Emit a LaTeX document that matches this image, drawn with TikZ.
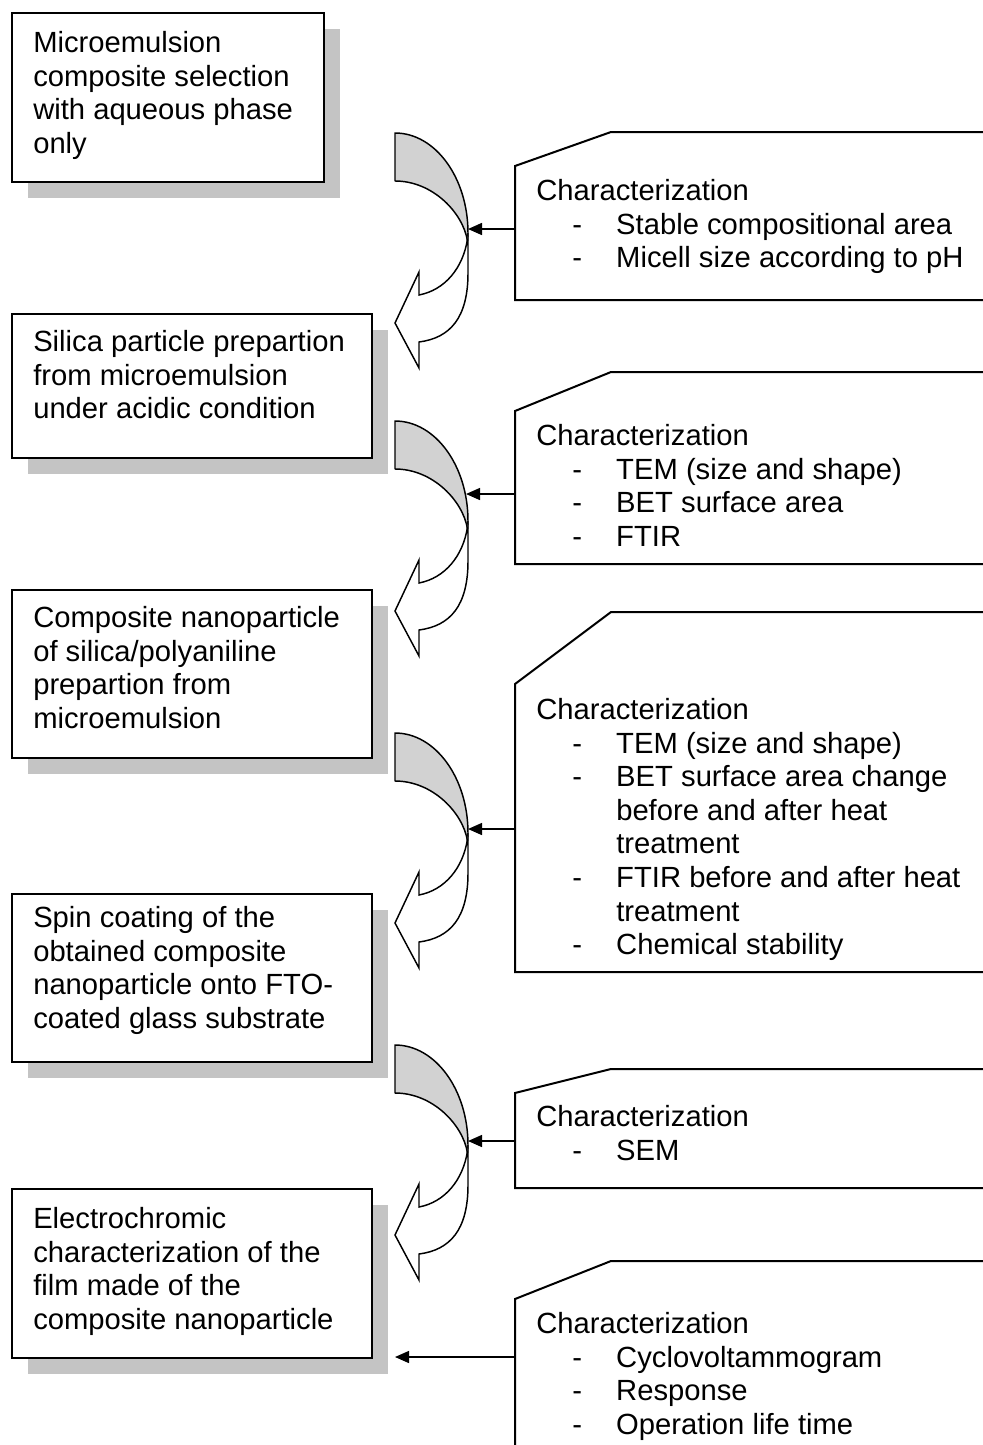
\documentclass[tikz,border=0pt]{standalone}
\usepackage{fontspec}
\setmainfont{Liberation Sans}
\usetikzlibrary{arrows.meta,shadows}
\definecolor{shadowgray}{RGB}{196,196,196}
\definecolor{arrowgray}{RGB}{210,210,210}
\newcommand\dashitem[1]{\hspace*{27pt}\makebox[33pt][l]{-}#1}
\newcommand\contline[1]{\hspace*{60pt}#1}
\begin{document}
\begin{tikzpicture}[x=0.75pt,y=-0.75pt,
  stepbox/.style={draw, line width=1.5pt, fill=white, inner sep=0pt, anchor=north west,
    drop shadow={shadow xshift=12pt, shadow yshift=-12pt, fill=shadowgray, opacity=1}},
  txt/.style={align=left, inner sep=0pt, anchor=north west,
    font=\fontsize{21.9pt}{25.2pt}\selectfont},
  callout/.style={line width=1.5pt, line join=miter},
  pointer/.style={line width=1.1pt, -{Triangle[length=10.5pt,width=9pt]}},
  curvarrow/.pic={
    \filldraw[fill=arrowgray, line width=1.1pt, line join=round]
      (0,0) .. controls (40.3,0) and (73,44.8) .. (73,100) -- (72.5,108)
      .. controls (68,80) and (38,48) .. (0,48) -- cycle;
    \filldraw[fill=white, line width=1.1pt, line join=miter]
      (72.5,106) .. controls (68,135) and (50,157) .. (24,162) -- (24,139) -- (0,190)
      -- (24,235) -- (24,209) .. controls (55,205) and (73,185) .. (73,140) -- (73,100);
  }]
\useasboundingbox (0,0) rectangle (982,1445);

% left process boxes
\node[stepbox, minimum width=234pt, minimum height=126.75pt] (b1) at (11,12) {};
\node[stepbox, minimum width=270pt, minimum height=108pt] (b2) at (11,313) {};
\node[stepbox, minimum width=270pt, minimum height=126pt] (b3) at (11,589) {};
\node[stepbox, minimum width=270pt, minimum height=126pt] (b4) at (11,893) {};
\node[stepbox, minimum width=270pt, minimum height=126.75pt] (b5) at (11,1188) {};

\node[txt] (t1) at (33,31) {Microemulsion\\composite selection\\with aqueous phase\\only};
\node[txt] (t2) at (33,330) {Silica particle prepartion\\from microemulsion\\under acidic condition};
\node[txt] (t3) at (33,606) {Composite nanoparticle\\of silica/polyaniline\\prepartion from\\microemulsion};
\node[txt] (t4) at (33,906) {Spin coating of the\\obtained composite\\nanoparticle onto FTO-\\coated glass substrate};
\node[txt] (t5) at (33,1207) {Electrochromic\\characterization of the\\film made of the\\composite nanoparticle};

% curved arrows
\pic at (395,133) {curvarrow};
\pic at (395,421) {curvarrow};
\pic at (395,733) {curvarrow};
\pic at (395,1045) {curvarrow};

% callouts
\draw[callout] (985,132) -- (611,132) -- (515,166) -- (515,300) -- (985,300);
\draw[callout] (985,372) -- (611,372) -- (515,411) -- (515,564) -- (985,564);
\draw[callout] (985,612) -- (611,612) -- (515,684) -- (515,972) -- (985,972);
\draw[callout] (985,1069) -- (611,1069) -- (515,1093) -- (515,1188) -- (985,1188);
\draw[callout] (985,1261) -- (611,1261) -- (515,1299) -- (515,1450);

\node[txt] (c1) at (536,179) {Characterization\\\dashitem{Stable compositional area}\\\dashitem{Micell size according to pH}};
\node[txt] (c2) at (536,424) {Characterization\\\dashitem{TEM (size and shape)}\\\dashitem{BET surface area}\\\dashitem{FTIR}};
\node[txt] (c3) at (536,698) {Characterization\\\dashitem{TEM (size and shape)}\\\dashitem{BET surface area change}\\\contline{before and after heat}\\\contline{treatment}\\\dashitem{FTIR before and after heat}\\\contline{treatment}\\\dashitem{Chemical stability}};
\node[txt] (c4) at (536,1105) {Characterization\\\dashitem{SEM}};
\node[txt] (c5) at (536,1312) {Characterization\\\dashitem{Cyclovoltammogram}\\\dashitem{Response}\\\dashitem{Operation life time}};

% pointer connectors
\coordinate (p1) at (515,229);  \coordinate (h1) at (468,229);
\coordinate (p2) at (515,494);  \coordinate (h2) at (466,494);
\coordinate (p3) at (515,829);  \coordinate (h3) at (468,829);
\coordinate (p4) at (515,1141); \coordinate (h4) at (468,1141);
\coordinate (p5) at (515,1357); \coordinate (h5) at (395,1357);
\draw[pointer] (p1) -- (h1);
\draw[pointer] (p2) -- (h2);
\draw[pointer] (p3) -- (h3);
\draw[pointer] (p4) -- (h4);
\draw[pointer] (p5) -- (h5);
\end{tikzpicture}
\end{document}
